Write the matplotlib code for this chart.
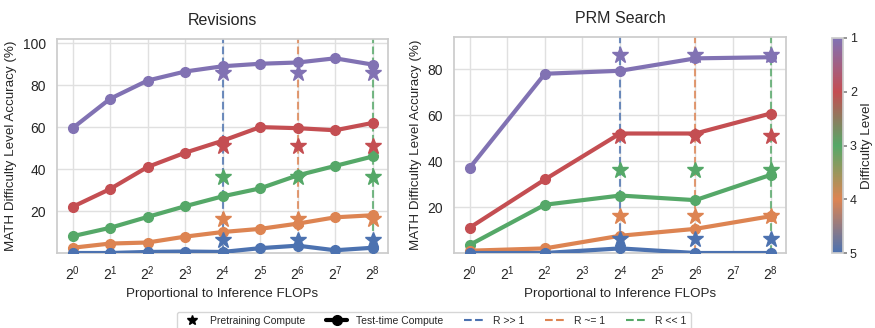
import numpy as np
import matplotlib
matplotlib.use('Agg')
import matplotlib.pyplot as plt
import seaborn as sns
from matplotlib.lines import Line2D
from matplotlib.colors import LinearSegmentedColormap, Normalize
from matplotlib.cm import ScalarMappable

sns.set_theme(style='whitegrid')
plt.rcParams['font.family'] = ['Liberation Sans', 'DejaVu Sans']

pal = sns.color_palette('deep')
# difficulty level 1..5 colours
level_colors = [pal[4], pal[3], pal[2], pal[1], pal[0]]
levels = [1, 2, 3, 4, 5]

# Revisions (x = 2^0 .. 2^8)
rev_x = [2**k for k in range(9)]
rev_acc = [
    [59.5, 73.5, 82.2, 86.5, 89.0, 90.2, 90.8, 92.8, 89.8],
    [22.0, 30.5, 41.0, 47.8, 53.5, 60.0, 59.5, 58.5, 62.0],
    [8.0, 12.0, 17.2, 22.3, 27.0, 30.8, 37.0, 41.5, 46.0],
    [2.5, 4.5, 5.0, 7.8, 10.0, 11.5, 14.0, 17.0, 18.0],
    [0.0, 0.0, 0.5, 0.7, 0.5, 2.3, 3.5, 1.3, 2.5],
]

# PRM search (x = 2^0, 2^2, ..., 2^8)
prm_x = [1, 4, 16, 64, 256]
prm_acc = [
    [37.0, 78.0, 79.3, 84.7, 85.2],
    [11.0, 32.0, 52.0, 52.0, 60.7],
    [3.5, 21.0, 25.0, 23.0, 34.0],
    [1.0, 2.0, 7.5, 10.5, 16.0],
    [0.0, 0.0, 2.0, 0.0, 0.0],
]

# pretraining compute (stars), same for all R settings
pre_x = [16, 64, 256]
pre_acc = [86, 51, 36, 16, 6]

r_x = [16, 64, 256]
r_labels = ['R >> 1', 'R ~= 1', 'R << 1']
r_colors = [pal[0], pal[1], pal[2]]

fig = plt.figure(figsize=(8.75, 3.28), dpi=100)
ax1 = fig.add_axes([57/875, 1-253/328, 331/875, 214/328])
ax2 = fig.add_axes([454/875, 1-253/328, 332/875, 216/328])
cax = fig.add_axes([832/875, 1-253/328, 11/875, 215/328])


def draw(ax, xs, accs, title, ylim):
    for xv, c in zip(r_x, r_colors):
        ax.axvline(xv, color=c, ls='--', lw=1.5, alpha=0.8, zorder=1)
    for acc, c in zip(accs, level_colors):
        ax.plot(xs, acc, '-o', color=c, lw=3, ms=7, zorder=3)
    for v, c in zip(pre_acc, level_colors):
        ax.plot(pre_x, [v]*len(pre_x), '*', color=c, ms=12, ls='none', zorder=4)
    ax.set_xscale('log', base=2)
    ax.set_xticks(rev_x)
    ax.set_xlim(0.75, 340)
    ax.set_ylim(*ylim)
    ax.set_title(title, fontsize=11.5, pad=10)
    ax.set_xlabel('Proportional to Inference FLOPs', fontsize=9.6)
    ax.set_ylabel('MATH Difficulty Level Accuracy (%)', fontsize=9.6)
    ax.tick_params(labelsize=10, pad=2)
    ax.grid(True, which='major', color='#e0e0e0')
    ax.minorticks_off()


draw(ax1, rev_x, rev_acc, 'Revisions', (0, 102))
ax1.set_yticks([20, 40, 60, 80, 100])
draw(ax2, prm_x, prm_acc, 'PRM Search', (0, 94))
ax2.set_yticks([20, 40, 60, 80])

cmap = LinearSegmentedColormap.from_list('lvl', level_colors)
sm = ScalarMappable(norm=Normalize(1, 5), cmap=cmap)
cb = fig.colorbar(sm, cax=cax, ticks=levels)
cb.ax.invert_yaxis()
cb.outline.set_edgecolor('#cccccc')
cb.ax.tick_params(labelsize=9, length=3, color='#888888', pad=2)
cb.set_label('Difficulty Level', fontsize=9.6, labelpad=3)

handles = [
    Line2D([], [], marker='*', color='black', ls='none', ms=7),
    Line2D([], [], marker='o', color='black', lw=3, ms=7),
]
for c in r_colors:
    handles.append(Line2D([], [], color=c, ls='--', lw=1.5))
labels = ['Pretraining Compute', 'Test-time Compute'] + r_labels
fig.legend(handles, labels, loc='center', bbox_to_anchor=(434/875, 1-321/328),
           ncol=5, fontsize=7.5, frameon=True, handlelength=2, columnspacing=2)

fig.savefig('out.png', dpi=100)
